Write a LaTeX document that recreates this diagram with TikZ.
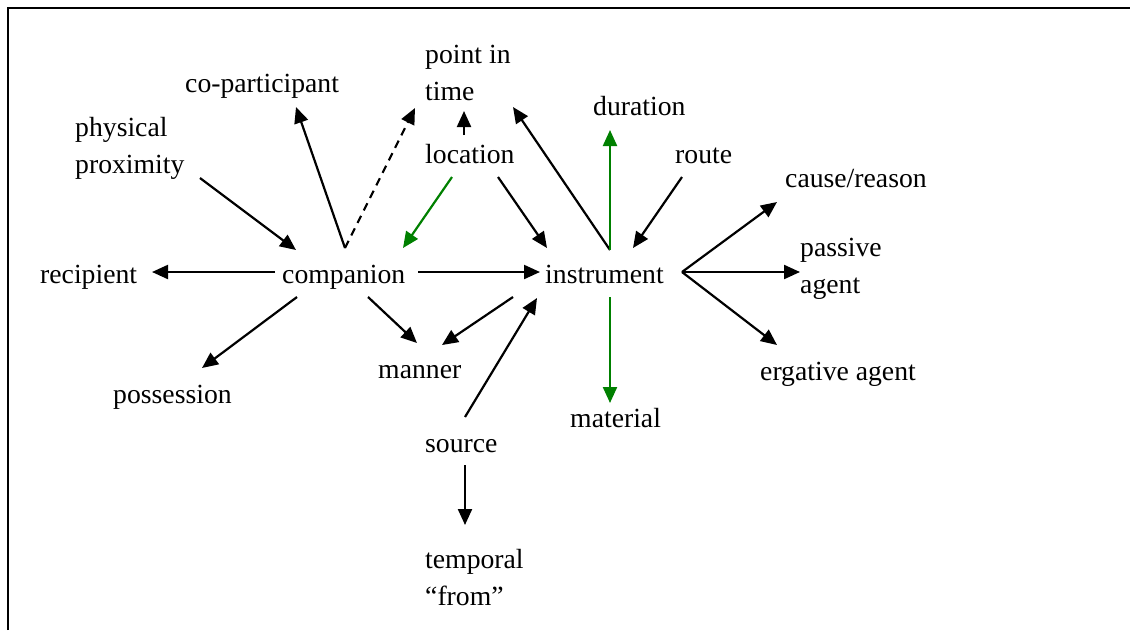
\documentclass[tikz,border=0pt]{standalone}
\usepackage{fontspec}
\setmainfont{Liberation Serif}
\usepackage{tikz}
\usetikzlibrary{arrows.meta}
\definecolor{rolegreen}{RGB}{0,128,0}

\begin{document}
\begin{tikzpicture}[x=1pt, y=-1pt,
  role/.style={anchor=base west, inner sep=0pt, align=left, font=\fontsize{27.7}{37}\selectfont},
  link/.style={line width=2.2pt, -{Triangle[length=16pt, width=14pt]}},
  greenlink/.style={link, draw=rolegreen},
  weaklink/.style={link, dash pattern=on 8pt off 6pt}]
\useasboundingbox (0,0) rectangle (1130,630);
\draw[line width=1.5pt] (8,630) -- (8,8) -- (1130,8);
\node[role] (cop) at (185,92) {co-participant};
\node[role] (phys) at (75,173) {physical\\proximity};
\node[role] (pit) at (425,100) {point in\\time};
\node[role] (loc) at (425,163) {location};
\node[role] (dur) at (593,115) {duration};
\node[role] (route) at (675,163) {route};
\node[role] (cause) at (785,187) {cause/reason};
\node[role] (pass) at (800,293) {passive\\agent};
\node[role] (recip) at (40,283) {recipient};
\node[role] (comp) at (282,283) {companion};
\node[role] (instr) at (545,283) {instrument};
\node[role] (erg) at (760,380) {ergative agent};
\node[role] (manner) at (378,378) {manner};
\node[role] (poss) at (113,403) {possession};
\node[role] (material) at (570,427) {material};
\node[role] (source) at (425,452) {source};
\node[role] (temp) at (425,605) {temporal\\“from”};
\draw[link] ([shift={(-7,-11)}]comp.base west) -- ([shift={(112,-11)}]recip.base west);
\draw[link] ([shift={(136,-11)}]comp.base west) -- ([shift={(-5,-11)}]instr.base west);
\draw[link] ([shift={(63,-35)}]comp.base west) -- ([shift={(111,15)}]cop.base west);
\draw[weaklink] ([shift={(63,-35)}]comp.base west) -- ([shift={(-10,8)}]pit.base west);
\draw[link] ([shift={(125,5)}]phys.base west) -- ([shift={(14,-33)}]comp.base west);
\draw[link] ([shift={(39,-28)}]loc.base west) -- ([shift={(39,11)}]pit.base west);
\draw[greenlink] ([shift={(27,14)}]loc.base west) -- ([shift={(121,-35)}]comp.base west);
\draw[link] ([shift={(73,14)}]loc.base west) -- ([shift={(2,-35)}]instr.base west);
\draw[link] ([shift={(65,-33)}]instr.base west) -- ([shift={(88,7)}]pit.base west);
\draw[greenlink] ([shift={(65,-33)}]instr.base west) -- ([shift={(17,15)}]dur.base west);
\draw[link] ([shift={(7,14)}]route.base west) -- ([shift={(88,-35)}]instr.base west);
\draw[link] ([shift={(137,-11)}]instr.base west) -- ([shift={(-8,15)}]cause.base west);
\draw[link] ([shift={(137,-11)}]instr.base west) -- ([shift={(0,-21)}]pass.base west);
\draw[link] ([shift={(137,-11)}]instr.base west) -- ([shift={(17,-35)}]erg.base west);
\draw[greenlink] ([shift={(65,14)}]instr.base west) -- ([shift={(40,-24)}]material.base west);
\draw[link] ([shift={(-32,14)}]instr.base west) -- ([shift={(64,-33)}]manner.base west);
\draw[link] ([shift={(86,14)}]comp.base west) -- ([shift={(39,-35)}]manner.base west);
\draw[link] ([shift={(15,14)}]comp.base west) -- ([shift={(89,-35)}]poss.base west);
\draw[link] ([shift={(40,-35)}]source.base west) -- ([shift={(-8,15)}]instr.base west);
\draw[link] ([shift={(40,13)}]source.base west) -- ([shift={(40,-80)}]temp.base west);
\end{tikzpicture}
\end{document}
